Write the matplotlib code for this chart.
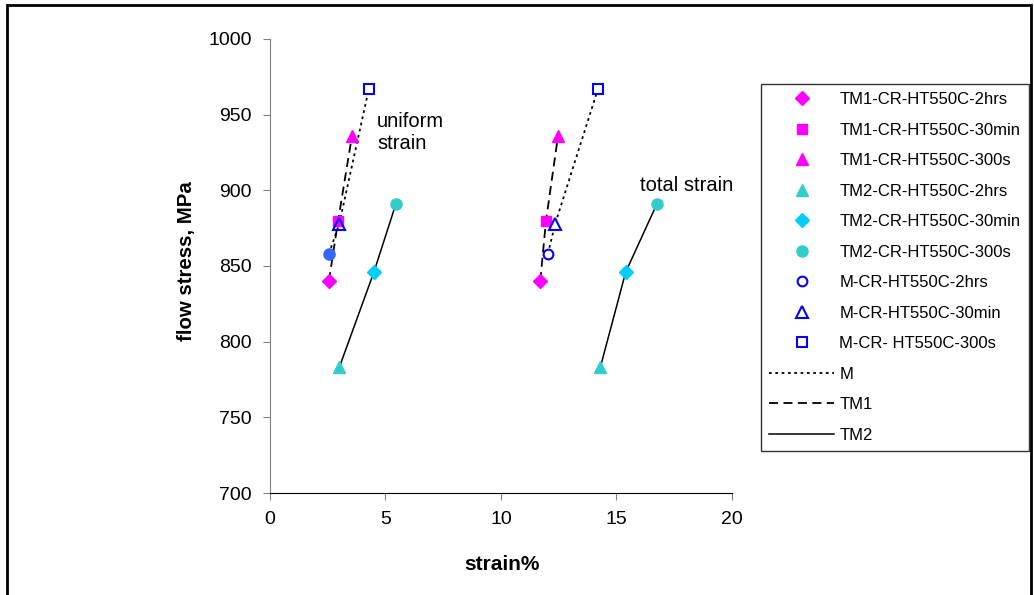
import matplotlib.pyplot as plt
from matplotlib.patches import Rectangle

plt.rcParams['font.family'] = ['Liberation Sans', 'DejaVu Sans']

# strain (%) : uniform / total, stress (MPa)
# ordem: 2hrs, 30min, 300s
tm1_uniforme = [2.55, 2.95, 3.55]
tm1_total = [11.7, 11.95, 12.47]
tm1_tensao = [840, 880, 936]

tm2_uniforme = [3.0, 4.5, 5.45]
tm2_total = [14.3, 15.4, 16.75]
tm2_tensao = [783, 846, 891]

m_uniforme = [2.55, 3.0, 4.28]
m_total = [12.03, 12.35, 14.2]
m_tensao = [858, 878, 967]

rotulos_tm1 = ['TM1-CR-HT550C-2hrs', 'TM1-CR-HT550C-30min', 'TM1-CR-HT550C-300s']
rotulos_tm2 = ['TM2-CR-HT550C-2hrs', 'TM2-CR-HT550C-30min', 'TM2-CR-HT550C-300s']
rotulos_m = ['M-CR-HT550C-2hrs', 'M-CR-HT550C-30min', 'M-CR- HT550C-300s']

fig = plt.figure(figsize=(10.34, 5.95), dpi=100)
ax = fig.add_axes([0.2611, 0.1714, 0.4468, 0.7631])

# linhas (M, TM1, TM2) - grupo uniforme e grupo total
for xs in (m_uniforme, m_total):
    ax.plot(xs, m_tensao, color='black', linestyle=(0, (1.5, 2)), lw=1.3,
            label='M' if xs is m_uniforme else None, zorder=2)
for xs in (tm1_uniforme, tm1_total):
    ax.plot(xs, tm1_tensao, color='black', linestyle=(0, (5, 3)), lw=1.3,
            label='TM1' if xs is tm1_uniforme else None, zorder=2)
for xs in (tm2_uniforme, tm2_total):
    ax.plot(xs, tm2_tensao, color='black', linestyle='-', lw=1.1,
            label='TM2' if xs is tm2_uniforme else None, zorder=2)

# marcadores
estilos_tm1 = [('D', 7), ('s', 7.5), ('^', 9)]
estilos_tm2 = [('^', 9, '#33CCCC'), ('D', 7, '#00CCFF'), ('o', 8, '#33CCCC')]
estilos_m = [('o', 7), ('^', 8), ('s', 7)]

handles = {}
for i in range(3):
    mk, ms = estilos_tm1[i]
    h = ax.plot([tm1_uniforme[i], tm1_total[i]], [tm1_tensao[i]] * 2, linestyle='none',
                marker=mk, ms=ms, color='#FF00FF', zorder=3)[0]
    handles[rotulos_tm1[i]] = h
for i in range(3):
    mk, ms, c = estilos_tm2[i]
    h = ax.plot([tm2_uniforme[i], tm2_total[i]], [tm2_tensao[i]] * 2, linestyle='none',
                marker=mk, ms=ms, color=c, zorder=3)[0]
    handles[rotulos_tm2[i]] = h
for i in range(3):
    mk, ms = estilos_m[i]
    h = ax.plot([m_total[i]], [m_tensao[i]], linestyle='none', marker=mk, ms=ms,
                mfc='white', mec='#0000FF', mew=1.5, zorder=4)[0]
    handles[rotulos_m[i]] = h
    if i == 0:
        # no grupo uniforme o ponto 2hrs aparece preenchido
        ax.plot([m_uniforme[i]], [m_tensao[i]], linestyle='none', marker='o', ms=8,
                color='#3366FF', zorder=4)
    else:
        ax.plot([m_uniforme[i]], [m_tensao[i]], linestyle='none', marker=mk, ms=ms,
                mfc='none' if i == 1 else 'white', mec='#0000FF', mew=1.5, zorder=4)

ax.text(4.63, 938, 'uniform\nstrain', fontsize=14.5, va='center', linespacing=1.2)
ax.text(16.0, 903.5, 'total strain', fontsize=14.5, va='center')

ax.set_xlim(0, 20)
ax.set_ylim(700, 1000)
ax.set_xticks([0, 5, 10, 15, 20])
ax.set_yticks(range(700, 1001, 50))
ax.tick_params(labelsize=14, length=5, color='#808080', direction='out', pad=8)
ax.spines['top'].set_visible(False)
ax.spines['right'].set_visible(False)
ax.spines['left'].set_color('#808080')
ax.spines['bottom'].set_color('black')
ax.set_xlabel('strain%', fontsize=15, fontweight='bold')
ax.set_ylabel('flow stress, MPa', fontsize=14.7, fontweight='bold')
ax.xaxis.set_label_coords(0.502, -0.1366)
ax.yaxis.set_label_coords(-0.161, 0.511)

linhas = {l.get_label(): l for l in ax.get_lines() if not l.get_label().startswith('_')}
ordem = rotulos_tm1 + rotulos_tm2 + rotulos_m
leg_handles = [handles[r] for r in ordem] + [linhas['M'], linhas['TM1'], linhas['TM2']]
leg_labels = ordem + ['M', 'TM1', 'TM2']
leg = fig.legend(leg_handles, leg_labels, loc='upper left', bbox_to_anchor=(761 / 1034, 1 - 84 / 595),
                 fontsize=12, frameon=True, fancybox=False, edgecolor='black', numpoints=1,
                 handlelength=3.9, handletextpad=0.3, labelspacing=0.93, borderpad=0.5,
                 borderaxespad=0)
leg.get_frame().set_linewidth(1.0)

fig.patches.append(Rectangle((7 / 1034, -0.05), 1024 / 1034, 1.05 - 5 / 595,
                             transform=fig.transFigure, fill=False, edgecolor='black', lw=2))

fig.savefig('out.png', dpi=100)
